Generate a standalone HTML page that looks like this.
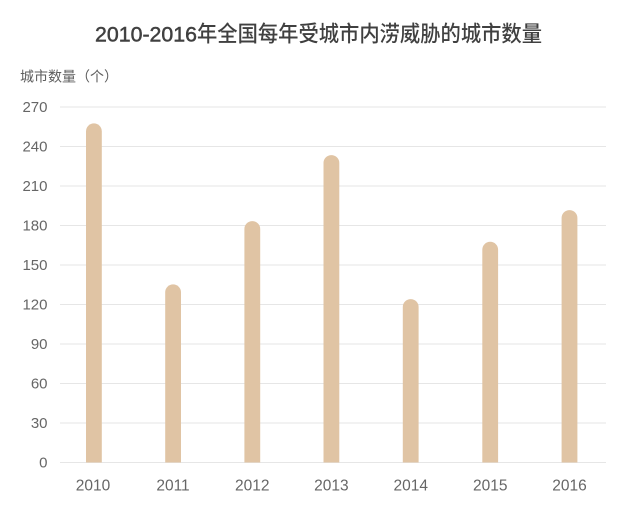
<!DOCTYPE html>
<html>
<head>
<meta charset="utf-8">
<style>
  html, body { margin: 0; padding: 0; background: #ffffff; }
  svg { display: block; }
</style>
</head>
<body>
<svg width="622" height="505" viewBox="0 0 622 505" xmlns="http://www.w3.org/2000/svg">
  <rect width="622" height="505" fill="#ffffff"/>
  <!-- Title -->
  <text x="95" y="41.5" font-family="'Liberation Sans','Noto Sans CJK SC',sans-serif" font-size="21.5" font-weight="normal" fill="#404040" stroke="#404040" stroke-width="0.5" textLength="102" lengthAdjust="spacingAndGlyphs">2010-2016</text>
  <text x="197" y="41.5" font-family="'Noto Sans CJK SC',sans-serif" font-size="22" font-weight="500" fill="#404040" textLength="345" lengthAdjust="spacingAndGlyphs">年全国每年受城市内涝威胁的城市数量</text>
  <!-- Y axis title -->
  <text x="20" y="81.5" font-family="'Noto Sans CJK SC',sans-serif" font-size="14" fill="#5e5e5e" textLength="98" lengthAdjust="spacingAndGlyphs">城市数量（个）</text>

  <!-- Grid lines -->
  <g stroke="#e6e6e6" stroke-width="1">
    <line x1="60" x2="606" y1="107" y2="107"/>
    <line x1="60" x2="606" y1="146.5" y2="146.5"/>
    <line x1="60" x2="606" y1="186" y2="186"/>
    <line x1="60" x2="606" y1="225.5" y2="225.5"/>
    <line x1="60" x2="606" y1="265" y2="265"/>
    <line x1="60" x2="606" y1="304.5" y2="304.5"/>
    <line x1="60" x2="606" y1="344" y2="344"/>
    <line x1="60" x2="606" y1="383.5" y2="383.5"/>
    <line x1="60" x2="606" y1="423" y2="423"/>
    <line x1="60" x2="606" y1="462.5" y2="462.5"/>
  </g>

  <!-- Y tick labels -->
  <g font-family="'Liberation Sans',sans-serif" font-size="15" fill="#666666" text-anchor="end">
    <text x="47.5" y="112">270</text>
    <text x="47.5" y="151.5">240</text>
    <text x="47.5" y="191">210</text>
    <text x="47.5" y="230.5">180</text>
    <text x="47.5" y="270">150</text>
    <text x="47.5" y="309.5">120</text>
    <text x="47.5" y="349">90</text>
    <text x="47.5" y="388.5">60</text>
    <text x="47.5" y="428">30</text>
    <text x="47.5" y="467.5">0</text>
  </g>

  <!-- Bars (rounded top) -->
  <g fill="#e0c4a4">
    <path d="M86 462.5 V131.3 A7.9 7.9 0 0 1 101.8 131.3 V462.5 Z"/>
    <path d="M165.2 462.5 V292.3 A7.9 7.9 0 0 1 181 292.3 V462.5 Z"/>
    <path d="M244.4 462.5 V229 A7.9 7.9 0 0 1 260.2 229 V462.5 Z"/>
    <path d="M323.5 462.5 V163 A7.9 7.9 0 0 1 339.3 163 V462.5 Z"/>
    <path d="M402.8 462.5 V307 A7.9 7.9 0 0 1 418.6 307 V462.5 Z"/>
    <path d="M482.3 462.5 V249.7 A7.9 7.9 0 0 1 498.1 249.7 V462.5 Z"/>
    <path d="M561.6 462.5 V218 A7.9 7.9 0 0 1 577.4 218 V462.5 Z"/>
  </g>

  <!-- X labels -->
  <g font-family="'Liberation Sans',sans-serif" font-size="15.5" fill="#666666" text-anchor="middle">
    <text x="93" y="490.5">2010</text>
    <text x="173" y="490.5">2011</text>
    <text x="252.3" y="490.5">2012</text>
    <text x="331.4" y="490.5">2013</text>
    <text x="410.7" y="490.5">2014</text>
    <text x="490.2" y="490.5">2015</text>
    <text x="569.5" y="490.5">2016</text>
  </g>
</svg>
</body>
</html>
